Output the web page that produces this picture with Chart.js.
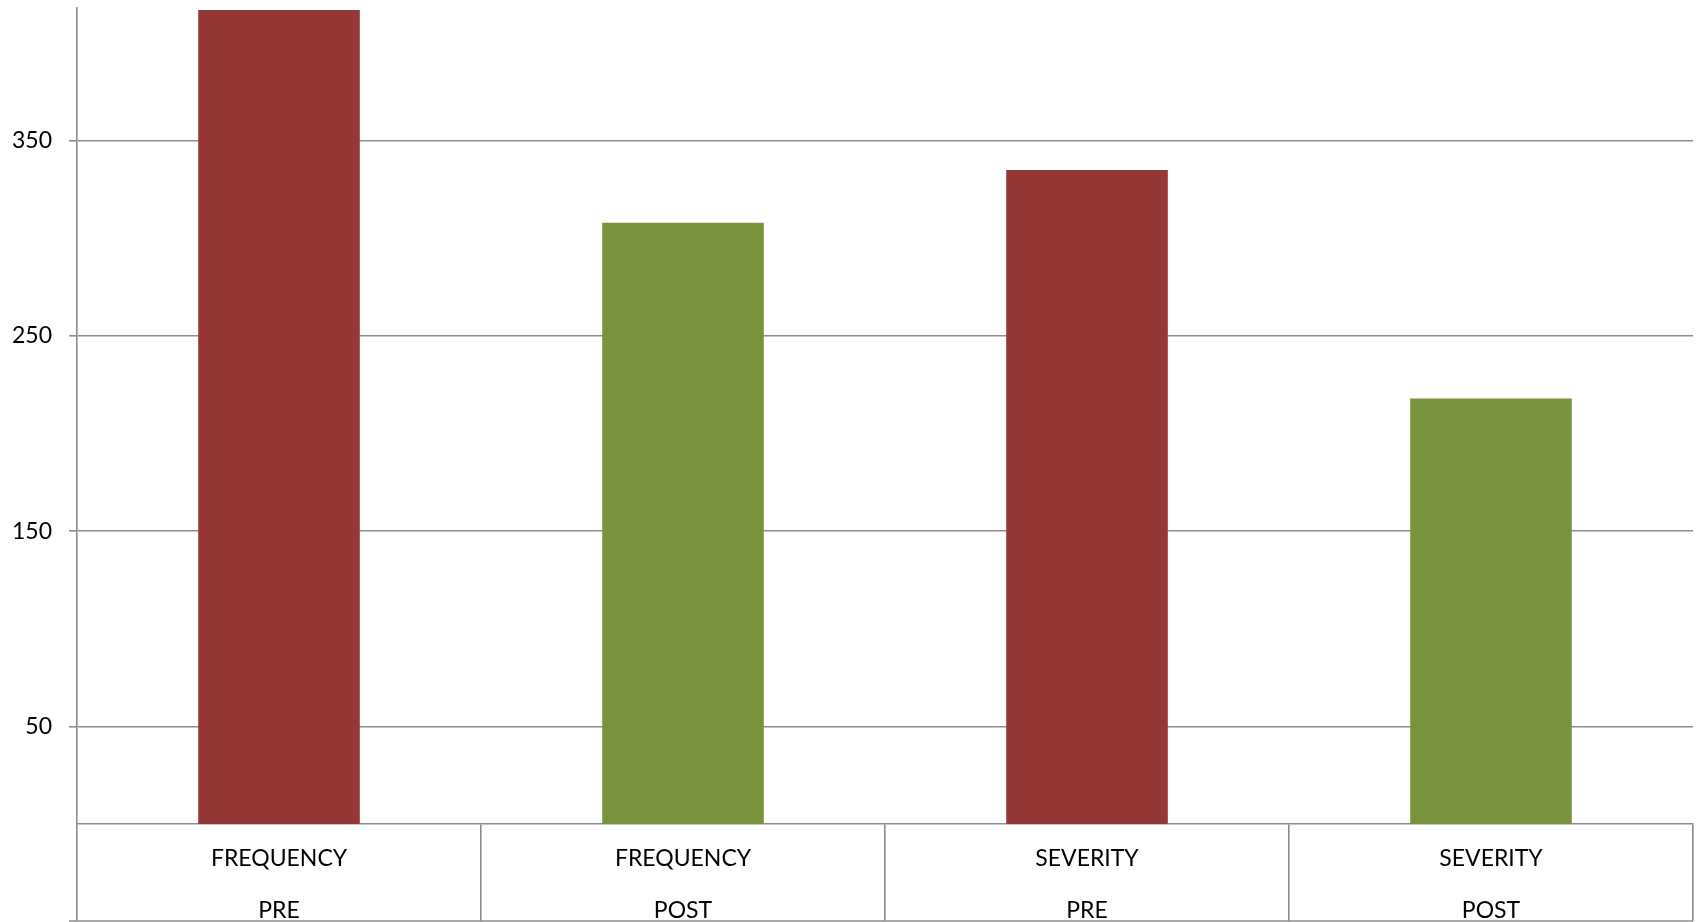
<!DOCTYPE html>
<html>
<head>
<meta charset="utf-8">
<script src="https://cdn.jsdelivr.net/npm/chart.js@4"></script>
<style>
  html, body { margin: 0; padding: 0; background: #fff; }
  #wrap { width: 1696px; height: 922px; position: relative; }
</style>
</head>
<body>
<div id="wrap"><canvas id="chart"></canvas></div>
<script>
// categories as two-line labels (measure / phase)
const categories = [
	['FREQUENCY', 'PRE'],
	['FREQUENCY', 'POST'],
	['SEVERITY', 'PRE'],
	['SEVERITY', 'POST']
];
const scores = [417, 308, 335, 218];
const barColors = ['#953735', '#77933C', '#953735', '#77933C'];
const yTicks = [50, 150, 250, 350];
const yMax = 418;

const gridColor = '#8c8c8c';
const labelFont = { family: 'Lato', size: 23 };

// bottom edge of the label table under the x axis
const tableBottom = {
	id: 'tableBottom',
	afterDraw(chart) {
		const ctx = chart.ctx;
		const x = chart.scales.x;
		const y = chart.scales.y;
		ctx.save();
		ctx.strokeStyle = gridColor;
		ctx.lineWidth = 1.6;
		ctx.beginPath();
		ctx.moveTo(y.right - y.options.grid.tickLength, x.bottom - 1);
		ctx.lineTo(x.right, x.bottom - 1);
		ctx.stroke();
		ctx.restore();
	}
};

let graphObject = {
	type: 'bar',
	data: {
		labels: categories,
		datasets: [{
			data: scores,
			backgroundColor: barColors,
			borderWidth: 0,
			barPercentage: 0.4,
			categoryPercentage: 1
		}]
	},
	options: {
		responsive: true,
		maintainAspectRatio: false,
		animation: false,
		layout: { padding: { top: 8, right: 3, left: 0, bottom: 0 } },
		plugins: {
			legend: { display: false },
			tooltip: { enabled: false }
		},
		scales: {
			x: {
				offset: true,
				grid: {
					offset: true,
					drawOnChartArea: false,
					drawTicks: true,
					tickLength: 97,
					color: gridColor,
					lineWidth: 1.6
				},
				border: { display: true, color: gridColor, width: 1.6 },
				ticks: {
					color: '#000',
					font: Object.assign({ lineHeight: 2.26 }, labelFont),
					padding: -88,
					maxRotation: 0,
					autoSkip: false
				},
				afterFit(s) {
					s.height = 98;
					s.paddingLeft = 0;
					s.paddingRight = 0;
				}
			},
			y: {
				min: 0,
				max: yMax,
				afterBuildTicks(s) {
					s.ticks = yTicks.map(v => ({ value: v }));
				},
				grid: {
					color: gridColor,
					lineWidth: 1.6,
					drawTicks: true,
					tickLength: 8
				},
				border: { display: true, color: gridColor, width: 1.6 },
				ticks: {
					color: '#000',
					font: labelFont,
					padding: 17
				},
				afterFit(s) {
					s.width = 77;
					s.paddingTop = 0;
					s.paddingBottom = 0;
				}
			}
		}
	},
	plugins: [tableBottom]
};

// create the chart on the canvas element
let scoreChart = new Chart(document.getElementById('chart'), graphObject);
</script>
</body>
</html>
